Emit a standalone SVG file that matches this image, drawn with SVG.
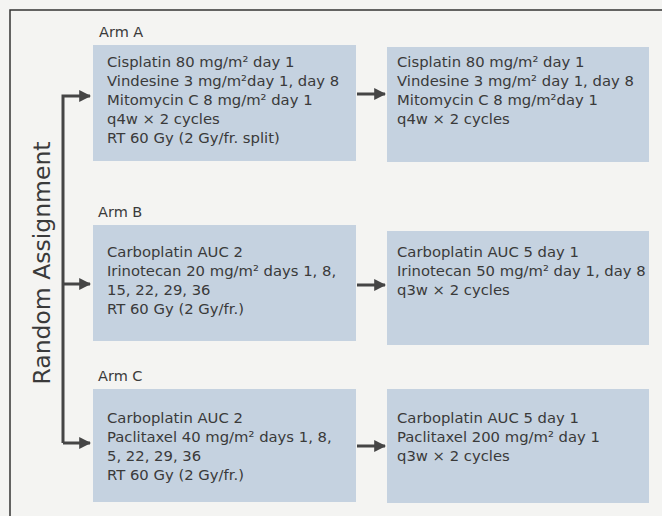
<svg xmlns="http://www.w3.org/2000/svg" width="662" height="516" viewBox="0 0 662 516">
<style>
.box{fill:#c5d2e0;}
.t{font-family:"DejaVu Sans","Liberation Sans",sans-serif;font-size:14.8px;fill:#3a3a3a;}
.lab{font-family:"DejaVu Sans","Liberation Sans",sans-serif;font-size:14.5px;fill:#3a3a3a;}
.big{font-family:"DejaVu Sans","Liberation Sans",sans-serif;font-size:23.5px;fill:#3a3a3a;}
.ln{stroke:#454545;stroke-width:3;fill:none;}
</style>
<defs>
<marker id="ah" markerWidth="4" markerHeight="4" refX="3.6" refY="2" orient="auto" markerUnits="strokeWidth">
<path d="M0,0 L4,2 L0,4 Z" fill="#454545"/>
</marker>
</defs>
<rect x="0" y="0" width="662" height="516" fill="#f4f4f2"/>
<rect x="10" y="10" width="700" height="600" fill="none" stroke="#333" stroke-width="1.5"/>
<text class="big" transform="translate(50,263) rotate(-90)" text-anchor="middle">Random Assignment</text>
<g id="connectors">
<path class="ln" d="M63,443 L63,96 L90,96" marker-end="url(#ah)"/>
<path class="ln" d="M63,284 L90,284" marker-end="url(#ah)"/>
<path class="ln" d="M63,443 L90,443" marker-end="url(#ah)"/>
<path class="ln" d="M357,94 L385,94" marker-end="url(#ah)"/>
<path class="ln" d="M357,285 L385,285" marker-end="url(#ah)"/>
<path class="ln" d="M357,446 L385,446" marker-end="url(#ah)"/>
</g>
<g id="armA">
<text class="lab" x="99" y="37">Arm A</text>
</g>
<g id="a1">
<rect class="box" x="93" y="45" width="263" height="116"/>
<text class="t" x="107" y="67">Cisplatin 80 mg/m² day 1</text>
<text class="t" x="107" y="86">Vindesine 3 mg/m²day 1, day 8</text>
<text class="t" x="107" y="105">Mitomycin C 8 mg/m² day 1</text>
<text class="t" x="107" y="124">q4w × 2 cycles</text>
<text class="t" x="107" y="143">RT 60 Gy (2 Gy/fr. split)</text>
</g>
<g id="a2">
<rect class="box" x="387" y="47" width="262" height="115"/>
<text class="t" x="397" y="67">Cisplatin 80 mg/m² day 1</text>
<text class="t" x="397" y="86">Vindesine 3 mg/m² day 1, day 8</text>
<text class="t" x="397" y="105">Mitomycin C 8 mg/m²day 1</text>
<text class="t" x="397" y="124">q4w × 2 cycles</text>
</g>
<g id="armB">
<text class="lab" x="98" y="217">Arm B</text>
</g>
<g id="b1">
<rect class="box" x="93" y="225" width="263" height="116"/>
<text class="t" x="107" y="257">Carboplatin AUC 2</text>
<text class="t" x="107" y="276">Irinotecan 20 mg/m² days 1, 8,</text>
<text class="t" x="107" y="295">15, 22, 29, 36</text>
<text class="t" x="107" y="314">RT 60 Gy (2 Gy/fr.)</text>
</g>
<g id="b2">
<rect class="box" x="387" y="231" width="262" height="114"/>
<text class="t" x="397" y="257">Carboplatin AUC 5 day 1</text>
<text class="t" x="397" y="276">Irinotecan 50 mg/m² day 1, day 8</text>
<text class="t" x="397" y="295">q3w × 2 cycles</text>
</g>
<g id="armC">
<text class="lab" x="98" y="381">Arm C</text>
</g>
<g id="c1">
<rect class="box" x="93" y="389" width="263" height="113"/>
<text class="t" x="107" y="423">Carboplatin AUC 2</text>
<text class="t" x="107" y="442">Paclitaxel 40 mg/m² days 1, 8,</text>
<text class="t" x="107" y="461">5, 22, 29, 36</text>
<text class="t" x="107" y="480">RT 60 Gy (2 Gy/fr.)</text>
</g>
<g id="c2">
<rect class="box" x="387" y="389" width="262" height="114"/>
<text class="t" x="397" y="423">Carboplatin AUC 5 day 1</text>
<text class="t" x="397" y="442">Paclitaxel 200 mg/m² day 1</text>
<text class="t" x="397" y="461">q3w × 2 cycles</text>
</g>
</svg>
